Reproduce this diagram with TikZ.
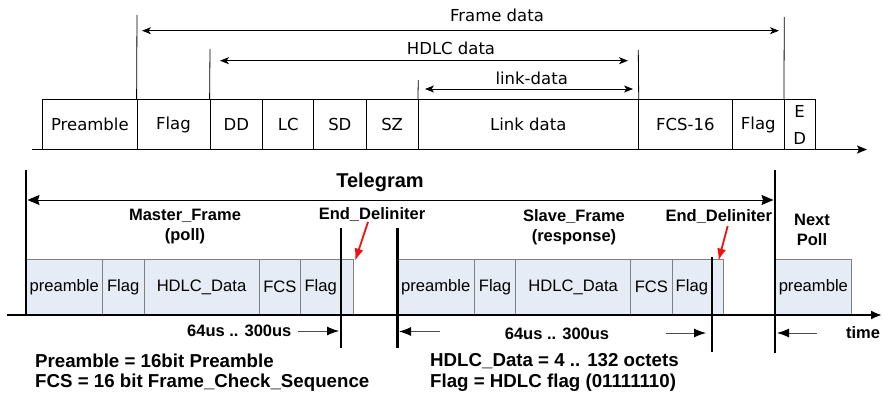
\documentclass[tikz,border=0pt]{standalone}
\usepackage{fontspec}
\setmainfont{Liberation Sans}
\newfontfamily\topfont{DejaVu Sans}
\usetikzlibrary{arrows.meta}
\definecolor{framefill}{HTML}{E6ECF6}
\definecolor{boxline}{HTML}{808080}
\definecolor{arrowred}{HTML}{F01010}
\begin{document}
\begin{tikzpicture}[x=1pt,y=-1pt,
  topbox/.style={draw, line width=0.8pt, inner sep=0pt, minimum height=50pt,
    font=\topfont\fontsize{16.5}{18}\selectfont},
  topbar/.style={line width=0.8pt},
  toparrow/.style={line width=0.8pt, {Stealth[length=9pt,width=7pt,inset=2.5pt]}-{Stealth[length=9pt,width=7pt,inset=2.5pt]}},
  toplabel/.style={font=\topfont\fontsize{16.5}{18}\selectfont, inner sep=0pt},
  fbox/.style={draw=boxline, fill=framefill, line width=0.8pt, inner sep=0pt, minimum height=56pt,
    font=\fontsize{16.6}{18}\selectfont},
  thickbar/.style={line width=2.4pt},
  blabel/.style={font=\bfseries\fontsize{16.5}{18}\selectfont, inner sep=0pt, align=center},
  legend/.style={font=\bfseries\fontsize{18.7}{20}\selectfont, inner sep=0pt, anchor=west},
  redarrow/.style={draw=arrowred, line width=1.8pt, -{Latex[length=12pt,width=9pt]}},
  timearrow/.style={line width=0.9pt, draw=black!70, -{Latex[length=12pt,width=9pt,color=black]}},
  bigarrow/.style={line width=0.9pt, {Stealth[length=12pt,width=10pt,inset=1.5pt]}-{Stealth[length=12pt,width=10pt,inset=1.5pt]}}
]
\useasboundingbox (0,0) rectangle (883,396);

% ---------------- top: frame structure ----------------
\node[topbox, minimum width=94.3pt] (tpre) at (89.85,124.5) {Preamble};
\node[topbox, minimum width=73pt]   (tflag) at (173.5,124.5) {Flag};
\node[topbox, minimum width=52.7pt] (tdd) at (236.35,124.5) {DD};
\node[topbox, minimum width=51pt]   (tlc) at (288.2,124.5) {LC};
\node[topbox, minimum width=52.3pt] (tsd) at (339.85,124.5) {SD};
\node[topbox, minimum width=52.3pt] (tsz) at (392.15,124.5) {SZ};
\node[topbox, minimum width=220pt]  (tlink) at (528.3,124.5) {Link data};
\node[topbox, minimum width=94pt]   (tfcs) at (685.3,124.5) {FCS-16};
\node[topbox, minimum width=52pt]   (tflag2) at (758.3,124.5) {Flag};
\node[topbox, minimum width=30.7pt, align=center,
      font=\topfont\fontsize{16.5}{27}\selectfont] (ted) at (799.65,124.5) {E\\D};

\coordinate (taxisL) at (32,149.5);
\coordinate (taxisR) at (867,149.5);
\draw[line width=1.6pt, -{Stealth[length=10pt,width=8pt,inset=2pt]}] (taxisL) -- (taxisR);

\coordinate (v1) at (137,15);
\coordinate (v2) at (210,49);
\coordinate (v3) at (418.3,80);
\coordinate (v4) at (638.3,50);
\coordinate (v5) at (784.3,17);
\draw[topbar] (tflag.north west) -- (v1);
\draw[topbar] (tdd.north west) -- (v2);
\draw[topbar] (tlink.north west) -- (v3);
\draw[topbar] (tlink.north east) -- (v4);
\draw[topbar] (ted.north west) -- (v5);

\coordinate (fdL) at (142,30.7);
\coordinate (fdR) at (779,30.7);
\draw[toparrow] (fdL) -- (fdR);
\node[toplabel] (lfd) at (497,15) {Frame data};

\coordinate (hdL) at (220,60.7);
\coordinate (hdR) at (628,60.7);
\draw[toparrow] (hdL) -- (hdR);
\node[toplabel] (lhd) at (451,48) {HDLC data};

\coordinate (ldL) at (425,89);
\coordinate (ldR) at (633,89);
\draw[toparrow] (ldL) -- (ldR);
\node[toplabel] (lld) at (531.7,78) {link-data};

% ---------------- bottom: telegram timing ----------------
% master frame
\node[fbox, minimum width=76.3pt] (mpre) at (64.15,287) {preamble};
\node[fbox, minimum width=41.7pt] (mflag) at (123.15,287) {Flag};
\node[fbox, minimum width=115pt]  (mdata) at (201.5,287) {HDLC\_Data};
\node[fbox, minimum width=41.7pt] (mfcs) at (279.85,287) {FCS};
\node[fbox, minimum width=40pt]   (mflag2) at (320.7,287) {Flag};
\node[fbox, minimum width=12.6pt] (med) at (347,287) {};
% slave frame
\node[fbox, minimum width=77pt]   (spre) at (435.8,287) {preamble};
\node[fbox, minimum width=41.4pt] (sflag) at (495,287) {Flag};
\node[fbox, minimum width=115pt]  (sdata) at (573.2,287) {HDLC\_Data};
\node[fbox, minimum width=41.3pt] (sfcs) at (651.35,287) {FCS};
\node[fbox, minimum width=39.7pt] (sflag2) at (691.85,287) {Flag};
\node[fbox, minimum width=11.6pt] (sed) at (717.5,287) {};
% next poll
\node[fbox, minimum width=76.7pt] (npre) at (813.35,287) {preamble};

% time axis
\coordinate (baxL) at (7,315);
\coordinate (baxR) at (882,315);
\draw[line width=2pt, -{Latex[length=11pt,width=9pt]}] (baxL) -- (baxR);

% thick bars
\coordinate (tgL1) at (26,170);
\coordinate (tgL2) at (26,315);
\coordinate (tgR1) at (775,170);
\coordinate (tgR2) at (775,353);
\draw[thickbar] (tgL1) -- (tgL2);
\draw[thickbar] (tgR1) -- (tgR2);
\coordinate (mb1) at (340.7,228);
\coordinate (mb2) at (340.7,348);
\coordinate (sb1) at (397.3,228);
\coordinate (sb2) at (397.3,348);
\coordinate (eb1) at (711.7,256.7);
\coordinate (eb2) at (711.7,351.7);
\draw[thickbar] (mb1) -- (mb2);
\draw[thickbar] (sb1) -- (sb2);
\draw[thickbar] (eb1) -- (eb2);

% telegram arrow
\coordinate (tgaL) at (27.5,200);
\coordinate (tgaR) at (773.5,200);
\draw[bigarrow] (tgaL) -- (tgaR);
\node[blabel, font=\bfseries\fontsize{20}{22}\selectfont] (ltg) at (380,182) {Telegram};

% frame labels
\node[blabel] (lmf) at (185,216) {Master\_Frame};
\node[blabel] (lpoll) at (185,236) {(poll)};
\node[blabel] (led1) at (372,215) {End\_Deliniter};
\node[blabel] (lsf) at (574,217) {Slave\_Frame};
\node[blabel] (lresp) at (574,237) {(response)};
\node[blabel] (led2) at (718.8,217) {End\_Deliniter};
\node[blabel] (lnext) at (812,220) {Next};
\node[blabel] (lnpoll) at (812,240) {Poll};

% red arrows
\coordinate (r1s) at (368,222);
\coordinate (r2s) at (727.7,226);
\draw[redarrow] (r1s) -- ([xshift=1.5pt,yshift=-2pt]med.north east);
\draw[redarrow] (r2s) -- ([xshift=1pt,yshift=-2pt]sed.north);

% gap timing
\node[blabel] (lt1) at (239.3,331) {64us .. 300us};
\coordinate (a1s) at (298,331);
\coordinate (a1e) at (339,331);
\draw[timearrow] (a1s) -- (a1e);
\coordinate (a2s) at (440,331.5);
\coordinate (a2e) at (399,331.5);
\draw[timearrow] (a2s) -- (a2e);
\node[blabel] (lt2) at (557,334) {64us .. 300us};
\coordinate (a3s) at (666,333);
\coordinate (a3e) at (706,333);
\draw[timearrow] (a3s) -- (a3e);
\coordinate (a4s) at (816.7,333);
\coordinate (a4e) at (777,333);
\draw[timearrow] (a4s) -- (a4e);
\node[blabel] (ltime) at (863,333) {time};

% legend
\node[legend] (lg1) at (35,361) {Preamble = 16bit Preamble};
\node[legend] (lg2) at (35,383) {FCS = 16 bit Frame\_Check\_Sequence};
\node[legend] (lg3) at (430,361) {HDLC\_Data = 4 .. 132 octets};
\node[legend] (lg4) at (430,383) {Flag = HDLC flag (01111110)};
\end{tikzpicture}
\end{document}
